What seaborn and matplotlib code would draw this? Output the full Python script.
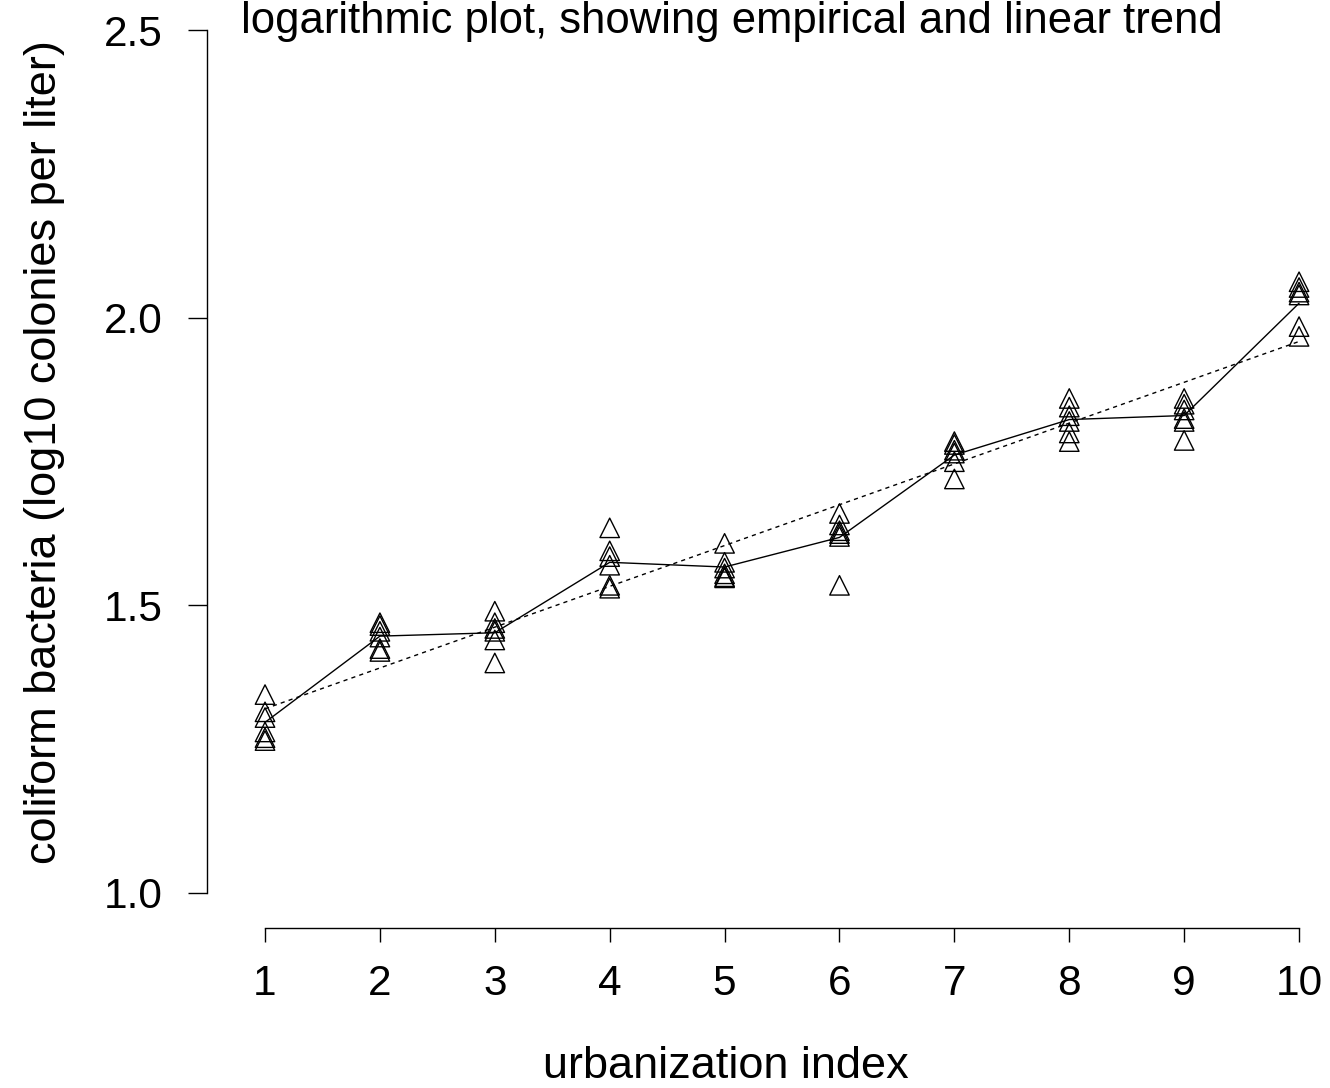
import numpy as np
import pandas as pd
import matplotlib
matplotlib.use("Agg")
import matplotlib.pyplot as plt
import seaborn as sns

sns.set_style("white")
plt.rcParams["font.family"] = ["Liberation Sans", "DejaVu Sans"]
plt.rcParams["text.color"] = "black"

# log10 coliform counts, six samples at each urbanization level
urban_index = [1, 2, 3, 4, 5, 6, 7, 8, 9, 10]
coliform = [
    [1.345, 1.315, 1.305, 1.280, 1.270, 1.265],
    [1.470, 1.465, 1.455, 1.445, 1.425, 1.420],
    [1.490, 1.470, 1.460, 1.455, 1.440, 1.400],
    [1.635, 1.595, 1.585, 1.570, 1.535, 1.530],
    [1.608, 1.575, 1.565, 1.555, 1.550, 1.548],
    [1.660, 1.640, 1.630, 1.625, 1.620, 1.535],
    [1.785, 1.780, 1.770, 1.765, 1.750, 1.720],
    [1.860, 1.845, 1.830, 1.820, 1.800, 1.785],
    [1.860, 1.850, 1.840, 1.825, 1.820, 1.787],
    [2.063, 2.053, 2.045, 2.040, 1.985, 1.968],
]
y_ticks = [1.0, 1.5, 2.0, 2.5]

df = pd.DataFrame(
    [(u, v) for u, vals in zip(urban_index, coliform) for v in vals],
    columns=["urban", "coliform"],
)

W, H = 1330, 1088
fig = plt.figure(figsize=(W / 100, H / 100), dpi=100)
ax = fig.add_axes([207 / W, (H - 928) / H, 1149.5 / W, 932 / H])

sns.scatterplot(data=df, x="urban", y="coliform", marker="^", s=196,
                facecolors="none", edgecolor="black", linewidth=1, ax=ax, legend=False)
sns.lineplot(data=df, x="urban", y="coliform", estimator="mean", errorbar=None,
             color="black", linewidth=1, ax=ax)
sns.regplot(data=df, x="urban", y="coliform", scatter=False, ci=None, ax=ax,
            line_kws=dict(color="black", linewidth=1, linestyle=(0, (3, 3))))

ax.set_xlim(0.495, 10.5)
ax.set_ylim(0.939, 2.56)
ax.set_xticks(urban_index)
ax.set_yticks(y_ticks)
ax.set_yticklabels([f"{t:.1f}" for t in y_ticks])
ax.set_xlabel("")
ax.set_ylabel("")

for side in ["top", "right"]:
    ax.spines[side].set_visible(False)
ax.spines["left"].set_bounds(1.0, 2.5)
ax.spines["bottom"].set_bounds(1, 10)
for side in ["left", "bottom"]:
    ax.spines[side].set_linewidth(1)
    ax.spines[side].set_color("black")

ax.tick_params(axis="y", left=True, direction="out", length=14, width=1, pad=18,
               labelsize=30.5, color="black", labelcolor="black")
ax.tick_params(axis="x", bottom=True, direction="out", length=10, width=1, pad=16,
               labelsize=30.5, color="black", labelcolor="black")
ax.set_facecolor("white")

fig.text(726 / W, 1 - 1066 / H, "urbanization index", ha="center", va="center", fontsize=32.5)
fig.text(45 / W, 1 - 452 / H, "coliform bacteria (log10 colonies per liter)",
         ha="center", va="center", rotation=90, fontsize=32.5)
fig.text(732 / W, 1 - 33 / H, "logarithmic plot, showing empirical and linear trend",
         ha="center", va="baseline", fontsize=31.4)

fig.savefig("out.png", dpi=100, facecolor="white")
